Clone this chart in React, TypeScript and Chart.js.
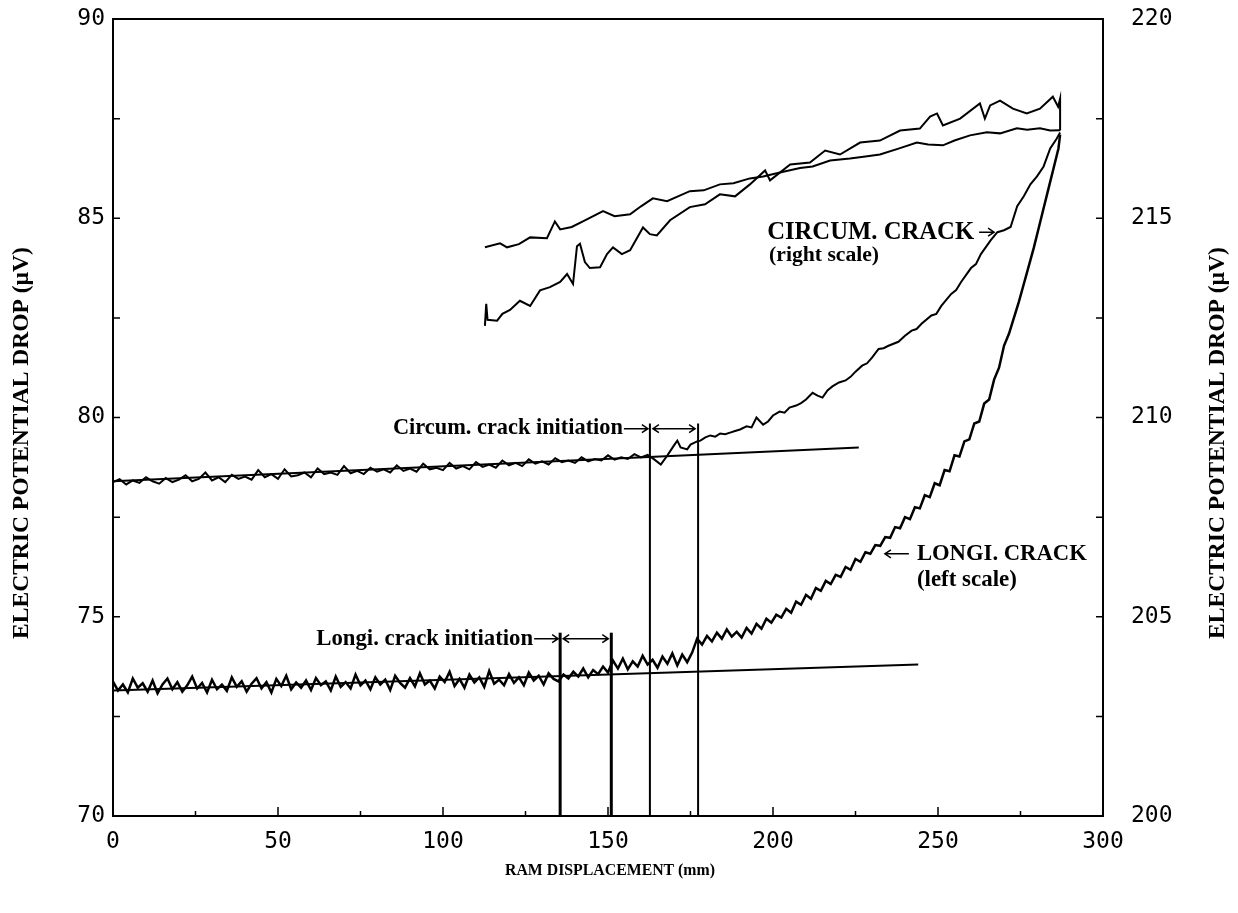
import React, { useEffect, useRef } from "react";
import { Chart, registerables } from "chart.js";
Chart.register(...registerables);

// Axis ranges (left / right scale share the same plot height)
const X_RANGE = [0, 300];
const LEFT_RANGE = [70, 90];
const RIGHT_RANGE = [200, 220];
const X_STEP = 50;
const Y_STEP = 5;

// Longitudinal crack EPD (left scale, µV) vs ram displacement (mm)
const LONGI_X = [
  0, 1.5, 3, 4.5, 6, 7.5, 9, 10.5, 12, 13.5,
  15, 16.5, 18, 19.5, 21, 22.5, 24, 25.5, 27, 28.5,
  30, 31.5, 33, 34.5, 36, 37.5, 39, 40.5, 42, 43.5,
  45, 46.5, 48, 49.5, 51, 52.5, 54, 55.5, 57, 58.5,
  60, 61.5, 63, 64.5, 66, 67.5, 69, 70.5, 72, 73.5,
  75, 76.5, 78, 79.5, 81, 82.5, 84, 85.5, 87, 88.5,
  90, 91.5, 93, 94.5, 96, 97.5, 99, 100.5, 102, 103.5,
  105, 106.5, 108, 109.5, 111, 112.5, 114, 115.5, 117, 118.5,
  120, 121.5, 123, 124.5, 126, 127.5, 129, 130.5, 132, 133.5,
  135, 136.5, 138, 139.5, 141, 142.5, 144, 145.5, 147, 148.5,
  150, 151.5, 153, 154.5, 156, 157.5, 159, 160.5, 162, 163.5,
  165, 166.5, 168, 169.5, 171, 172.5, 174, 175.5, 177, 178.5,
  180, 181.5, 183, 184.5, 186, 187.5, 189, 190.5, 192, 193.5,
  195, 196.5, 198, 199.5, 201, 202.5, 204, 205.5, 207, 208.5,
  210, 211.5, 213, 214.5, 216, 217.5, 219, 220.5, 222, 223.5,
  225, 226.5, 228, 229.5, 231, 232.5, 234, 235.5, 237, 238.5,
  240, 241.5, 243, 244.5, 246, 247.5, 249, 250.5, 252, 253.5,
  255, 256.5, 258, 259.5, 261, 262.5, 264, 265.5, 267, 268.5,
  270, 271.5, 273, 274.5, 276, 277.5, 279, 280.5, 282, 283.5,
  285, 286.5, 287,
];
const LONGI_Y = [
  73.37, 73.15, 73.3, 73.1, 73.45, 73.22, 73.33, 73.12, 73.4, 73.08,
  73.3, 73.45, 73.18, 73.36, 73.12, 73.28, 73.5, 73.2, 73.34, 73.1,
  73.42, 73.18, 73.3, 73.14, 73.48, 73.24, 73.38, 73.12, 73.32, 73.46,
  73.2, 73.36, 73.1, 73.44, 73.26, 73.52, 73.18, 73.35, 73.22, 73.4,
  73.16, 73.46, 73.28, 73.38, 73.15, 73.5, 73.24, 73.36, 73.2, 73.55,
  73.28, 73.4, 73.18, 73.48, 73.3, 73.42, 73.16, 73.52, 73.34, 73.22,
  73.46, 73.25, 73.58, 73.3, 73.4, 73.2, 73.5, 73.36, 73.62, 73.26,
  73.44, 73.22, 73.55, 73.35, 73.48, 73.24, 73.64, 73.32, 73.42, 73.28,
  73.56, 73.34, 73.48, 73.28, 73.6, 73.4, 73.52, 73.3, 73.58, 73.44,
  73.38, 73.55, 73.45, 73.62, 73.5, 73.7, 73.48, 73.66, 73.56, 73.75,
  73.6, 73.9, 73.7, 73.95, 73.68, 73.88, 73.75, 74.02, 73.8, 73.92,
  73.72, 74.0, 73.82, 74.08, 73.78, 74.05, 73.86, 74.1, 74.45, 74.3,
  74.52, 74.38, 74.6, 74.45, 74.68, 74.5, 74.62, 74.48, 74.72, 74.58,
  74.82, 74.7, 74.95, 74.85, 75.05, 74.98, 75.2, 75.1, 75.38, 75.3,
  75.55, 75.45, 75.72, 75.65, 75.9, 75.82, 76.05, 76.0, 76.25, 76.18,
  76.45, 76.38, 76.62, 76.58, 76.8, 76.78, 77.0, 76.98, 77.25, 77.22,
  77.5, 77.45, 77.75, 77.72, 78.05, 78.0, 78.35, 78.3, 78.68, 78.65,
  79.05, 79.02, 79.4, 79.45, 79.85, 79.9, 80.35, 80.45, 80.95, 81.25,
  81.8, 82.1, 82.5, 82.9, 83.35, 83.8, 84.25, 84.75, 85.25, 85.75,
  86.25, 86.75, 87.1,
];

// Circumferential crack EPD (right scale, µV)
const CIRCUM_X = [
  0, 2, 4, 6, 8, 10, 12, 14, 16, 18,
  20, 22, 24, 26, 28, 30, 32, 34, 36, 38,
  40, 42, 44, 46, 48, 50, 52, 54, 56, 58,
  60, 62, 64, 66, 68, 70, 72, 74, 76, 78,
  80, 82, 84, 86, 88, 90, 92, 94, 96, 98,
  100, 102, 104, 106, 108, 110, 112, 114, 116, 118,
  120, 122, 124, 126, 128, 130, 132, 134, 136, 138,
  140, 142, 144, 146, 148, 150, 152, 154, 156, 158,
  160, 162, 164, 166, 168, 170, 171, 172, 174, 175, 177,
  178, 179.5, 181, 182.5, 184, 185.5, 187, 188.5, 190, 192, 193.5, 195, 197, 198.5,
  200, 202, 203.5, 205, 207, 208.5, 210, 212, 213.5, 215, 216.5, 218, 220, 222, 223.5,
  225, 227, 228.5, 230, 232, 233.5, 235, 238, 240, 242, 243.5, 245, 248, 249.5,
  251, 254, 255.5, 257, 260, 261.5, 263, 266, 268, 270, 272, 274, 276, 278, 280, 282, 284, 286, 287,
];
const CIRCUM_Y = [
  208.38, 208.45, 208.32, 208.42, 208.36, 208.5, 208.4, 208.34, 208.48, 208.38,
  208.44, 208.55, 208.4, 208.46, 208.62, 208.42, 208.5, 208.38, 208.56, 208.46,
  208.52, 208.44, 208.68, 208.5, 208.58, 208.46, 208.7, 208.52, 208.55, 208.62,
  208.5, 208.72, 208.58, 208.62, 208.56, 208.78, 208.6, 208.66, 208.58, 208.74,
  208.64, 208.7, 208.62, 208.8, 208.66, 208.72, 208.64, 208.84, 208.7, 208.74,
  208.68, 208.86, 208.72, 208.78, 208.7, 208.88, 208.76, 208.82, 208.74, 208.92,
  208.8, 208.86, 208.78, 208.95, 208.84, 208.9, 208.82, 208.98, 208.88, 208.92,
  208.86, 209.0, 208.9, 208.96, 208.92, 209.05, 208.94, 209.0, 208.96, 209.08,
  209.0, 209.06, 208.95, 208.82, 209.05, 209.3, 209.42, 209.25, 209.2, 209.32, 209.4,
  209.42, 209.5, 209.55, 209.52, 209.6, 209.58, 209.62, 209.66, 209.7, 209.78, 209.75, 210.0, 209.82, 209.9,
  210.05, 210.15, 210.12, 210.25, 210.3, 210.36, 210.45, 210.62, 210.55, 210.5, 210.68, 210.78, 210.88, 210.93, 211.02,
  211.15, 211.3, 211.36, 211.5, 211.72, 211.74, 211.8, 211.9, 212.05, 212.18, 212.22, 212.35, 212.56, 212.6,
  212.8, 213.1, 213.2, 213.4, 213.75, 213.85, 214.1, 214.45, 214.65, 214.7, 214.78, 215.3, 215.55, 215.85, 216.05, 216.3, 216.75, 217.0, 217.15,
];

// Straight baseline fits
const LONGI_FIT_X = [0, 244];
const LONGI_FIT_Y = [73.15, 73.8];
const CIRCUM_FIT_X = [0, 226];
const CIRCUM_FIT_Y = [208.4, 209.25];

// Upper traces (left scale)
const UPPER_A_X = [
  112.7, 117.3, 119.4, 123, 126.4, 131.5, 133.9, 135.5, 139, 142.4, 148.5, 152, 156.7, 160, 163.6, 167.9,
  174.8, 179, 183.9, 188, 193, 197, 202.1, 208.2, 212, 217.3, 223.3, 228, 232.4, 238.5, 243.6, 247, 251.5,
  255, 259.7, 264.8, 268.8, 273.9, 277, 280.9, 284, 287,
];
const UPPER_A_Y = [
  84.27, 84.37, 84.27, 84.35, 84.52, 84.5, 84.92, 84.72, 84.78, 84.92, 85.18, 85.05, 85.1, 85.3, 85.5,
  85.43, 85.68, 85.7, 85.85, 85.88, 86.0, 86.05, 86.15, 86.26, 86.3, 86.45, 86.5, 86.55, 86.6, 86.76, 86.9,
  86.85, 86.83, 86.95, 87.08, 87.16, 87.13, 87.26, 87.22, 87.26, 87.2, 87.21,
];
const UPPER_B_X = [
  112.7, 113.1, 113.5, 116.4, 118, 120.3, 123.3, 126.4, 129.4, 132.4, 135.5, 137.6, 139.4, 140.6, 141.5,
  143, 144.5, 147.6, 149.7, 151.5, 154.2, 156.7, 160.6, 162.7, 164.8, 168.8, 174.8, 179.4, 183.9, 188.5,
  193, 197.6, 199.1, 205.2, 211.2, 215.8, 220.3, 226.4, 232.4, 238.5, 244.5, 247.6, 249.7, 251.5, 256.7,
  262.7, 264.2, 265.8, 268.8, 272.7, 276.9, 280.9, 284.8, 286.4, 287, 287,
];
const UPPER_B_Y = [
  82.3, 82.85, 82.45, 82.43, 82.6, 82.7, 82.93, 82.8, 83.19, 83.27, 83.4, 83.6, 83.35, 84.3, 84.36, 83.9,
  83.75, 83.77, 84.1, 84.27, 84.1, 84.2, 84.77, 84.6, 84.57, 84.95, 85.28, 85.35, 85.6, 85.55, 85.85,
  86.2, 85.95, 86.35, 86.4, 86.7, 86.6, 86.9, 86.95, 87.2, 87.25, 87.55, 87.63, 87.33, 87.5, 87.88, 87.5,
  87.83, 87.95, 87.75, 87.63, 87.75, 88.05, 87.8, 88.0, 87.2,
];

// Crack initiation brackets (mm) and the top of their marker lines (left scale)
const LONGI_INIT = [135.5, 151.0];
const LONGI_INIT_TOP = 74.6;
const CIRCUM_INIT = [162.7, 177.3];
const CIRCUM_INIT_TOP = 79.85;

// Annotation anchors (data units)
const CIRCUM_INIT_LABEL_Y = 79.72;
const LONGI_INIT_LABEL_Y = 74.45;
const CIRCUM_LABEL_TIP = [267.3, 214.65]; // right scale
const LONGI_LABEL_TIP = [233.3, 76.58]; // left scale

const pts = (xs: number[], ys: number[]) => xs.map((x, i) => ({ x, y: ys[i] }));

const SERIF = '"Liberation Serif", "Times New Roman", serif';
const MONO = '"DejaVu Sans Mono", "Liberation Mono", monospace';

function fitFont(ctx: CanvasRenderingContext2D, text: string, width: number) {
  ctx.font = `bold 20px ${SERIF}`;
  const w = ctx.measureText(text).width;
  const size = (20 * width) / w;
  ctx.font = `bold ${size.toFixed(2)}px ${SERIF}`;
}

function arrow(ctx: CanvasRenderingContext2D, x1: number, y: number, x2: number, both = false) {
  ctx.beginPath();
  ctx.moveTo(x1, y);
  ctx.lineTo(x2, y);
  const d = x2 > x1 ? 1 : -1;
  ctx.moveTo(x2 - d * 6, y - 4);
  ctx.lineTo(x2, y);
  ctx.lineTo(x2 - d * 6, y + 4);
  if (both) {
    ctx.moveTo(x1 + d * 6, y - 4);
    ctx.lineTo(x1, y);
    ctx.lineTo(x1 + d * 6, y + 4);
  }
  ctx.stroke();
}

const overlay = {
  id: "overlay",
  afterDraw(chart: any) {
    const { ctx, chartArea: a, scales } = chart;
    const sx = scales.x, yl = scales.y, yr = scales.y2;
    ctx.save();
    ctx.strokeStyle = "#000";
    ctx.fillStyle = "#000";
    ctx.lineWidth = 2;
    ctx.strokeRect(a.left, a.top, a.right - a.left, a.bottom - a.top);

    // inward tick marks
    ctx.lineWidth = 1.5;
    ctx.beginPath();
    for (let v = X_RANGE[0] + 25; v < X_RANGE[1]; v += 25) {
      const px = sx.getPixelForValue(v);
      const len = v % 50 === 0 ? 9 : 5;
      ctx.moveTo(px, a.bottom);
      ctx.lineTo(px, a.bottom - len);
    }
    for (let v = LEFT_RANGE[0] + 2.5; v < LEFT_RANGE[1]; v += 2.5) {
      const py = yl.getPixelForValue(v);
      ctx.moveTo(a.left, py);
      ctx.lineTo(a.left + 7, py);
    }
    for (let v = RIGHT_RANGE[0] + 2.5; v < RIGHT_RANGE[1]; v += 2.5) {
      const py = yr.getPixelForValue(v);
      ctx.moveTo(a.right, py);
      ctx.lineTo(a.right - 7, py);
    }
    ctx.stroke();

    ctx.textBaseline = "middle";
    // axis titles
    ctx.textAlign = "center";
    fitFont(ctx, "RAM DISPLACEMENT (mm)", 210);
    ctx.fillText("RAM DISPLACEMENT (mm)", 610, 871);
    const yTitle = "ELECTRIC POTENTIAL DROP (\u00b5V)";
    for (const cx of [22, 1218]) {
      ctx.save();
      ctx.translate(cx, 443);
      ctx.rotate(-Math.PI / 2);
      fitFont(ctx, yTitle, 392);
      ctx.fillText(yTitle, 0, 0);
      ctx.restore();
    }

    ctx.lineWidth = 1.5;
    // Circum. crack initiation
    {
      const y = yl.getPixelForValue(CIRCUM_INIT_LABEL_Y);
      const x1 = sx.getPixelForValue(CIRCUM_INIT[0]);
      const x2 = sx.getPixelForValue(CIRCUM_INIT[1]);
      arrow(ctx, x1 - 26, y, x1 - 2);
      arrow(ctx, x1 + 3, y, x2 - 3, true);
      ctx.textAlign = "right";
      fitFont(ctx, "Circum. crack initiation", 230);
      ctx.fillText("Circum. crack initiation", x1 - 27, y);
    }
    // Longi. crack initiation
    {
      const y = yl.getPixelForValue(LONGI_INIT_LABEL_Y);
      const x1 = sx.getPixelForValue(LONGI_INIT[0]);
      const x2 = sx.getPixelForValue(LONGI_INIT[1]);
      arrow(ctx, x1 - 26, y, x1 - 2);
      arrow(ctx, x1 + 3, y, x2 - 3, true);
      ctx.textAlign = "right";
      fitFont(ctx, "Longi. crack initiation", 217);
      ctx.fillText("Longi. crack initiation", x1 - 27, y);
    }
    // CIRCUM. CRACK (right scale)
    {
      const tx = sx.getPixelForValue(CIRCUM_LABEL_TIP[0]);
      const ty = yr.getPixelForValue(CIRCUM_LABEL_TIP[1]);
      arrow(ctx, tx - 16, ty, tx - 1);
      ctx.textAlign = "right";
      fitFont(ctx, "CIRCUM. CRACK", 207);
      ctx.fillText("CIRCUM. CRACK", tx - 21, ty);
      const left = tx - 21 - 207;
      ctx.textAlign = "left";
      fitFont(ctx, "(right scale)", 110);
      ctx.fillText("(right scale)", left + 2, ty + 23);
    }
    // LONGI. CRACK (left scale)
    {
      const tx = sx.getPixelForValue(LONGI_LABEL_TIP[0]);
      const ty = yl.getPixelForValue(LONGI_LABEL_TIP[1]);
      arrow(ctx, tx + 26, ty, tx + 2);
      ctx.textAlign = "left";
      fitFont(ctx, "LONGI. CRACK", 170);
      ctx.fillText("LONGI. CRACK", tx + 34, ty);
      fitFont(ctx, "(left scale)", 100);
      ctx.fillText("(left scale)", tx + 34, ty + 26);
    }
    ctx.restore();
  },
};

export default function App() {
  const ref = useRef<HTMLCanvasElement>(null);
  useEffect(() => {
    if (!ref.current) return;
    const line = (data: any[], axis = "y", width = 2) => ({
      data,
      yAxisID: axis,
      borderColor: "#000",
      backgroundColor: "#000",
      borderWidth: width,
      pointRadius: 0,
      tension: 0,
      fill: false,
    });
    const vline = (x: number, top: number, w: number) =>
      line([{ x, y: LEFT_RANGE[0] }, { x, y: top }], "y", w);
    const fixPad = (s: any) => {
      s.paddingTop = 0;
      s.paddingBottom = 0;
    };
    const chart = new Chart(ref.current, {
      type: "line",
      data: {
        datasets: [
          line(pts(LONGI_X, LONGI_Y), "y", 2.5),
          line(pts(LONGI_FIT_X, LONGI_FIT_Y), "y", 2),
          line(pts(CIRCUM_X, CIRCUM_Y), "y2", 2),
          line(pts(CIRCUM_FIT_X, CIRCUM_FIT_Y), "y2", 2),
          line(pts(UPPER_A_X, UPPER_A_Y), "y", 2),
          line(pts(UPPER_B_X, UPPER_B_Y), "y", 2),
          vline(LONGI_INIT[0], LONGI_INIT_TOP, 3),
          vline(LONGI_INIT[1], LONGI_INIT_TOP, 3),
          vline(CIRCUM_INIT[0], CIRCUM_INIT_TOP, 2),
          vline(CIRCUM_INIT[1], CIRCUM_INIT_TOP, 2),
        ] as any,
      },
      options: {
        responsive: false,
        animation: false,
        events: [],
        layout: { padding: { top: 19, left: 0, right: 0, bottom: 0 } },
        plugins: { legend: { display: false }, tooltip: { enabled: false } },
        scales: {
          x: {
            type: "linear",
            position: "bottom",
            min: X_RANGE[0],
            max: X_RANGE[1],
            ticks: { stepSize: X_STEP, color: "#000", font: { family: MONO, size: 23 }, padding: 12, maxRotation: 0 },
            grid: { display: false, drawTicks: false },
            border: { display: false },
            afterFit: (s: any) => {
              s.height = 97;
              s.paddingLeft = 0;
              s.paddingRight = 0;
            },
          },
          y: {
            type: "linear",
            position: "left",
            min: LEFT_RANGE[0],
            max: LEFT_RANGE[1],
            ticks: { stepSize: Y_STEP, color: "#000", font: { family: MONO, size: 23 }, padding: 8 },
            grid: { display: false, drawTicks: false },
            border: { display: false },
            afterFit: (s: any) => {
              s.width = 113;
              fixPad(s);
            },
          },
          y2: {
            type: "linear",
            position: "right",
            min: RIGHT_RANGE[0],
            max: RIGHT_RANGE[1],
            ticks: { stepSize: Y_STEP, color: "#000", font: { family: MONO, size: 23 }, padding: 28 },
            grid: { display: false, drawTicks: false },
            border: { display: false },
            afterFit: (s: any) => {
              s.width = 135;
              fixPad(s);
            },
          },
        },
      },
      plugins: [overlay],
    });
    return () => chart.destroy();
  }, []);
  return (
    <div style={{ position: "absolute", left: 0, top: 0, width: 1238, height: 913, background: "#fff" }}>
      <canvas ref={ref} width={1238} height={913} style={{ width: 1238, height: 913 }} />
    </div>
  );
}
